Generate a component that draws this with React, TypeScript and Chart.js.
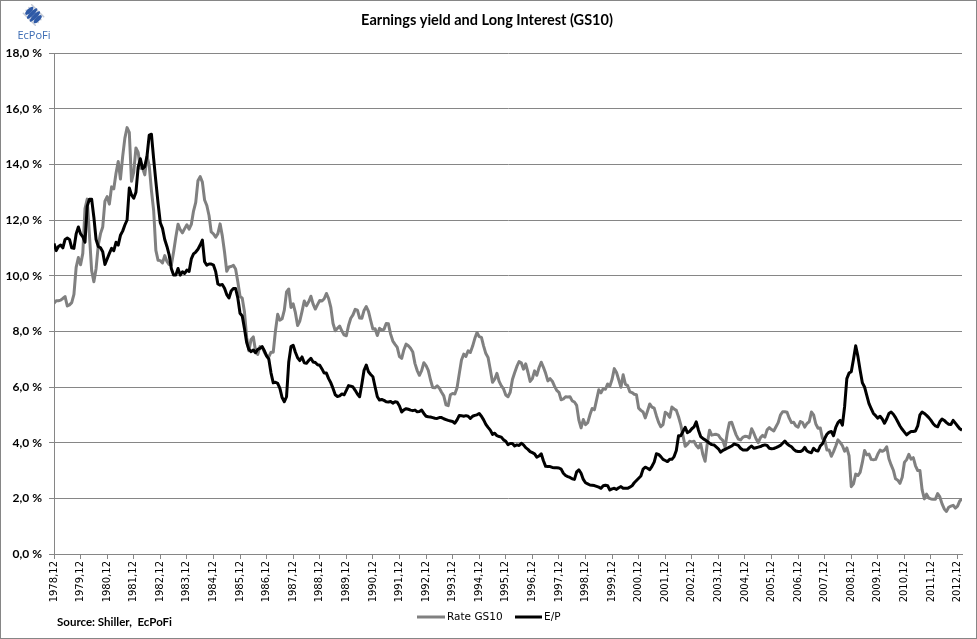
import React, { useEffect, useRef } from "react";
import { Chart, registerables } from "chart.js";

Chart.register(...registerables);

const TITLE = "Earnings yield and Long Interest (GS10)";
const SOURCE = "Source: Shiller,  EcPoFi";
const SERIES_NAMES = ["Rate GS10", "E/P"];

// Tick labels, one per year (every 12th monthly category, starting 1978,12)
const YEAR_TICKS = [
  "1978,12", "1979,12", "1980,12", "1981,12", "1982,12", "1983,12", "1984,12",
  "1985,12", "1986,12", "1987,12", "1988,12", "1989,12", "1990,12", "1991,12",
  "1992,12", "1993,12", "1994,12", "1995,12", "1996,12", "1997,12", "1998,12",
  "1999,12", "2000,12", "2001,12", "2002,12", "2003,12", "2004,12", "2005,12",
  "2006,12", "2007,12", "2008,12", "2009,12", "2010,12", "2011,12", "2012,12",
];

const Y_TICKS = [0, 2, 4, 6, 8, 10, 12, 14, 16, 18];

// Monthly series, 1978,12 .. 2013,2 (percent)
const RATE_GS10 = [
  9.01,
  9.10, 9.10, 9.12, 9.18, 9.25, 8.91, 8.95, 9.03, 9.33, 10.30, 10.65, 10.39,
  10.80, 12.41, 12.75, 11.47, 10.18, 9.78, 10.25, 11.10, 11.51, 11.75, 12.68, 12.84,
  12.57, 13.19, 13.12, 13.68, 14.10, 13.47, 14.28, 14.94, 15.32, 15.15, 13.39, 13.72,
  14.59, 14.43, 13.86, 13.87, 13.62, 14.30, 13.95, 13.06, 12.34, 10.91, 10.55, 10.54,
  10.46, 10.72, 10.51, 10.40, 10.38, 10.85, 11.38, 11.85, 11.65, 11.54, 11.69, 11.83,
  11.67, 11.84, 12.32, 12.63, 13.41, 13.56, 13.36, 12.72, 12.52, 12.16, 11.57, 11.50,
  11.38, 11.51, 11.86, 11.43, 10.85, 10.16, 10.31, 10.33, 10.37, 10.24, 9.78, 9.26,
  9.19, 8.70, 7.78, 7.30, 7.71, 7.80, 7.30, 7.17, 7.45, 7.43, 7.25, 7.11,
  7.08, 7.25, 7.25, 8.02, 8.61, 8.40, 8.45, 8.76, 9.42, 9.52, 8.86, 8.99,
  8.67, 8.21, 8.37, 8.72, 9.09, 8.92, 9.06, 9.26, 8.98, 8.80, 8.96, 9.11,
  9.09, 9.17, 9.36, 9.18, 8.86, 8.28, 8.02, 8.11, 8.19, 8.01, 7.87, 7.84,
  8.21, 8.47, 8.59, 8.79, 8.76, 8.48, 8.47, 8.75, 8.89, 8.72, 8.39, 8.08,
  8.09, 7.85, 8.11, 8.04, 8.07, 8.28, 8.27, 7.90, 7.65, 7.53, 7.42, 7.09,
  7.03, 7.34, 7.54, 7.48, 7.39, 7.26, 6.84, 6.59, 6.42, 6.59, 6.87, 6.77,
  6.60, 6.26, 5.98, 5.97, 6.04, 5.96, 5.81, 5.68, 5.36, 5.33, 5.72, 5.77,
  5.75, 5.97, 6.48, 6.97, 7.18, 7.10, 7.30, 7.24, 7.46, 7.74, 7.96, 7.81,
  7.78, 7.47, 7.20, 7.06, 6.63, 6.17, 6.28, 6.49, 6.20, 6.04, 5.93, 5.71,
  5.65, 5.81, 6.27, 6.51, 6.74, 6.91, 6.87, 6.64, 6.83, 6.53, 6.20, 6.30,
  6.58, 6.42, 6.69, 6.89, 6.71, 6.49, 6.22, 6.30, 6.21, 6.03, 5.88, 5.81,
  5.54, 5.57, 5.65, 5.64, 5.65, 5.50, 5.46, 5.34, 4.81, 4.53, 4.83, 4.65,
  4.72, 5.00, 5.23, 5.18, 5.54, 5.90, 5.79, 5.94, 5.92, 6.11, 6.03, 6.28,
  6.66, 6.52, 6.26, 5.99, 6.44, 6.10, 6.05, 5.83, 5.80, 5.74, 5.72, 5.24,
  5.16, 5.10, 4.89, 5.14, 5.39, 5.28, 5.24, 4.97, 4.73, 4.57, 4.65, 5.09,
  5.04, 4.91, 5.28, 5.21, 5.16, 4.93, 4.65, 4.26, 3.87, 3.94, 4.05, 4.03,
  4.05, 3.90, 3.81, 3.96, 3.57, 3.33, 3.98, 4.45, 4.27, 4.29, 4.30, 4.27,
  4.15, 4.08, 3.83, 4.35, 4.72, 4.73, 4.50, 4.28, 4.13, 4.10, 4.19, 4.23,
  4.22, 4.17, 4.50, 4.34, 4.14, 4.00, 4.18, 4.26, 4.20, 4.46, 4.54, 4.47,
  4.42, 4.57, 4.72, 4.99, 5.11, 5.11, 5.09, 4.88, 4.72, 4.73, 4.60, 4.56,
  4.76, 4.72, 4.56, 4.69, 4.75, 5.10, 5.00, 4.67, 4.52, 4.53, 4.15, 4.10,
  3.74, 3.74, 3.51, 3.68, 3.88, 4.10, 4.01, 3.89, 3.69, 3.81, 3.53, 2.42,
  2.52, 2.87, 2.82, 2.93, 3.29, 3.72, 3.56, 3.59, 3.40, 3.39, 3.40, 3.59,
  3.73, 3.69, 3.73, 3.85, 3.42, 3.20, 3.01, 2.70, 2.65, 2.54, 2.76, 3.29,
  3.39, 3.58, 3.41, 3.46, 3.17, 3.00, 3.00, 2.30, 1.98, 2.15, 2.01, 1.98,
  1.97, 1.97, 2.17, 2.05, 1.80, 1.62, 1.53, 1.68, 1.72, 1.75, 1.65, 1.72,
  1.91, 1.98,
];

const EARNINGS_YIELD = [
  11.16,
  10.9, 11.05, 11.1, 11.0, 11.3, 11.35, 11.3, 11.0, 10.98, 11.5, 11.75, 11.5,
  11.4, 11.2, 12.5, 12.75, 12.75, 12.1, 11.3, 11.05, 11.0, 10.86, 10.4, 10.6,
  10.8, 10.98, 10.9, 11.2, 11.1, 11.45, 11.6, 11.82, 12.0, 13.15, 12.9, 12.78,
  13.0, 13.9, 14.2, 13.85, 13.92, 14.3, 15.05, 15.08, 14.2, 13.38, 12.6, 11.9,
  11.7, 11.3, 11.05, 10.75, 10.25, 10.02, 10.02, 10.26, 10.02, 10.14, 10.08, 10.2,
  10.15, 10.6, 10.78, 10.85, 10.95, 11.1, 11.28, 10.5, 10.38, 10.42, 10.42, 10.38,
  10.15, 9.7, 9.66, 9.68, 9.55, 9.32, 9.2, 9.45, 9.54, 9.54, 9.2, 8.65,
  8.55, 8.1, 7.6, 7.35, 7.27, 7.33, 7.23, 7.35, 7.39, 7.45, 7.3, 7.12,
  7.0, 6.5, 6.15, 6.17, 6.13, 5.95, 5.62, 5.47, 5.65, 6.9, 7.45, 7.5,
  7.25, 7.05, 6.95, 7.08, 6.87, 6.85, 6.95, 7.03, 6.9, 6.88, 6.8, 6.78,
  6.65, 6.5, 6.5, 6.3, 6.15, 5.95, 5.72, 5.66, 5.68, 5.75, 5.72, 5.88,
  6.05, 6.03, 6.0, 5.88, 5.75, 5.65, 6.1, 6.6, 6.79, 6.55, 6.45, 6.37,
  6.0, 5.65, 5.53, 5.55, 5.52, 5.47, 5.46, 5.48, 5.42, 5.47, 5.45, 5.32,
  5.1, 5.18, 5.22, 5.2, 5.17, 5.15, 5.17, 5.11, 5.12, 5.17, 5.05, 4.95,
  4.93, 4.92, 4.9, 4.88, 4.87, 4.9, 4.9, 4.86, 4.83, 4.8, 4.78, 4.76,
  4.7, 4.82, 4.98, 4.97, 4.95, 4.97, 4.95, 4.87, 4.95, 4.98, 5.0, 5.05,
  4.95, 4.82, 4.66, 4.55, 4.45, 4.3, 4.34, 4.25, 4.22, 4.2, 4.1, 4.05,
  3.93, 3.97, 3.97, 3.88, 3.92, 3.9, 3.98, 3.92, 3.82, 3.76, 3.68, 3.64,
  3.6, 3.48, 3.52, 3.6, 3.35, 3.15, 3.14, 3.14, 3.11, 3.1, 3.1, 3.09,
  3.05, 2.9, 2.82, 2.78, 2.75, 2.7, 2.68, 2.95, 3.02, 2.9, 2.68, 2.56,
  2.52, 2.48, 2.47, 2.46, 2.43, 2.4, 2.36, 2.45, 2.47, 2.45, 2.3, 2.34,
  2.36, 2.32, 2.38, 2.42, 2.36, 2.36, 2.36, 2.4, 2.45, 2.56, 2.64, 2.72,
  2.8, 3.05, 3.12, 3.08, 3.03, 3.15, 3.3, 3.6, 3.58, 3.5, 3.4, 3.36,
  3.32, 3.4, 3.4, 3.5, 3.72, 4.25, 4.25, 4.4, 4.55, 4.36, 4.4, 4.5,
  4.57, 4.75, 4.45, 4.22, 4.15, 4.1, 4.04, 3.98, 3.93, 3.92, 3.85, 3.78,
  3.66, 3.72, 3.76, 3.8, 3.84, 3.88, 3.95, 3.93, 3.9, 3.8, 3.74, 3.74,
  3.74, 3.82, 3.88, 3.8, 3.82, 3.84, 3.86, 3.9, 3.92, 3.9, 3.8, 3.78,
  3.79, 3.82, 3.86, 3.9, 3.98, 4.06, 3.96, 3.9, 3.85, 3.76, 3.7, 3.68,
  3.68, 3.72, 3.83, 3.7, 3.66, 3.64, 3.8, 3.72, 3.7, 3.88, 3.96, 4.15,
  4.3, 4.38, 4.4, 4.25, 4.55, 4.72, 4.8, 4.63, 5.3, 6.3, 6.5, 6.55,
  7.0, 7.48, 7.1, 6.6, 6.15, 6.0, 5.7, 5.4, 5.22, 5.05, 4.97, 4.88,
  4.95, 4.85, 4.7, 4.85, 5.05, 5.1, 5.02, 4.9, 4.75, 4.6, 4.48, 4.38,
  4.28, 4.35, 4.4, 4.4, 4.42, 4.6, 5.0, 5.1, 5.05, 4.98, 4.9, 4.8,
  4.68, 4.6, 4.57, 4.75, 4.85, 4.8, 4.72, 4.66, 4.65, 4.8, 4.7, 4.6,
  4.5, 4.45,
];

const W = 977;
const H = 639;
const GRID = "#868686";
const GRAY_LINE = "#808080";

export default function App() {
  const ref = useRef<HTMLCanvasElement | null>(null);

  useEffect(() => {
    document.body.style.margin = "0";
    const canvas = ref.current;
    if (!canvas) return;

    const decor = {
      id: "decor",
      afterDraw(chart: any) {
        const ctx = chart.ctx as CanvasRenderingContext2D;
        ctx.save();
        // outer border
        ctx.strokeStyle = GRID;
        ctx.lineWidth = 1;
        ctx.strokeRect(0.5, 0.5, W - 1, H - 1);

        // title
        ctx.fillStyle = "#000";
        ctx.font = "bold 14.5px Lato, 'Open Sans', sans-serif";
        ctx.textAlign = "center";
        ctx.textBaseline = "middle";
        ctx.fillText(TITLE, 487, 20);

        // source
        ctx.textAlign = "left";
        ctx.font = "bold 11.5px Lato, 'Open Sans', sans-serif";
        ctx.fillText(SOURCE, 57, 622);

        // legend
        const ly = 617;
        ctx.font = "10.5px 'DejaVu Sans', sans-serif";
        ctx.lineWidth = 3;
        ctx.lineCap = "butt";
        ctx.strokeStyle = GRAY_LINE;
        ctx.beginPath();
        ctx.moveTo(417, ly);
        ctx.lineTo(445, ly);
        ctx.stroke();
        ctx.fillStyle = "#000";
        ctx.fillText(SERIES_NAMES[0], 447, ly);
        ctx.strokeStyle = "#000";
        ctx.beginPath();
        ctx.moveTo(515, ly);
        ctx.lineTo(542, ly);
        ctx.stroke();
        ctx.fillText(SERIES_NAMES[1], 544, ly);

        // logo mark: diamond of twisted strands
        const cx = 33.5;
        const cy = 15;
        const offs = [-6, -2, 2, 6];
        ctx.lineCap = "round";
        offs.forEach((o) => {
          ctx.strokeStyle = "#c2c8d4";
          ctx.lineWidth = 1.5;
          ctx.beginPath();
          ctx.moveTo(cx + o * 0.7 - 6, cy - o * 0.7 - 6);
          ctx.lineTo(cx + o * 0.7 + 6, cy - o * 0.7 + 6);
          ctx.stroke();
        });
        offs.forEach((o) => {
          const len = 8 - Math.abs(o) * 0.45;
          ctx.fillStyle = "#2f5aa6";
          ctx.beginPath();
          ctx.ellipse(cx + o * 0.7, cy + o * 0.7, len, 2.1, -Math.PI / 4, 0, Math.PI * 2);
          ctx.fill();
        });
        ctx.fillStyle = "#3b6bb3";
        ctx.font = "11px 'Open Sans', sans-serif";
        ctx.textAlign = "center";
        ctx.textBaseline = "middle";
        ctx.fillText("EcPoFi", 34, 36);
        ctx.restore();
      },
    };

    const chart = new Chart(canvas, {
      type: "line",
      data: {
        datasets: [
          {
            label: SERIES_NAMES[0],
            data: RATE_GS10.map((y, x) => ({ x, y })),
            borderColor: GRAY_LINE,
            backgroundColor: GRAY_LINE,
            borderWidth: 3,
            pointRadius: 0,
            borderJoinStyle: "round",
            tension: 0,
            order: 2,
          },
          {
            label: SERIES_NAMES[1],
            data: EARNINGS_YIELD.map((y, x) => ({ x, y })),
            borderColor: "#000000",
            backgroundColor: "#000000",
            borderWidth: 3,
            pointRadius: 0,
            borderJoinStyle: "round",
            tension: 0,
            order: 1,
          },
        ],
      },
      options: {
        responsive: false,
        animation: false,
        layout: { padding: { left: 0, right: 15, top: 53, bottom: 0 }, autoPadding: false },
        plugins: {
          legend: { display: false },
          title: { display: false },
          tooltip: { enabled: false },
        },
        scales: {
          x: {
            type: "linear",
            min: 0,
            max: RATE_GS10.length - 1,
            afterFit: (s: any) => {
              s.height = 85;
            },
            grid: {
              display: true,
              drawOnChartArea: false,
              drawTicks: true,
              tickLength: 5,
              color: GRID,
            },
            border: { display: true, color: GRID, width: 1 },
            ticks: {
              stepSize: 12,
              includeBounds: false,
              autoSkip: false,
              maxRotation: 90,
              minRotation: 90,
              padding: 2,
              color: "#000",
              font: { family: "'DejaVu Sans', sans-serif", size: 10 },
              callback: (v: any) => {
                const k = Math.round(Number(v) / 12);
                return Number(v) % 12 === 0 ? YEAR_TICKS[k] : null;
              },
            },
          },
          y: {
            type: "linear",
            min: Y_TICKS[0],
            max: Y_TICKS[Y_TICKS.length - 1],
            afterFit: (s: any) => {
              s.width = 54;
            },
            grid: { color: GRID, tickLength: 5, drawTicks: true },
            border: { display: true, color: GRID, width: 1 },
            ticks: {
              stepSize: 2,
              padding: 7,
              color: "#000",
              font: { family: "Lato, 'Open Sans', sans-serif", size: 12, weight: "bold" },
              callback: (v: any) => Number(v).toFixed(1).replace(".", ",") + " %",
            },
          },
        },
      },
      plugins: [decor],
    } as any);

    return () => chart.destroy();
  }, []);

  return (
    <div style={{ width: W, height: H, position: "relative", background: "#fff" }}>
      <canvas ref={ref} width={W} height={H} style={{ display: "block", width: W, height: H }} />
    </div>
  );
}
